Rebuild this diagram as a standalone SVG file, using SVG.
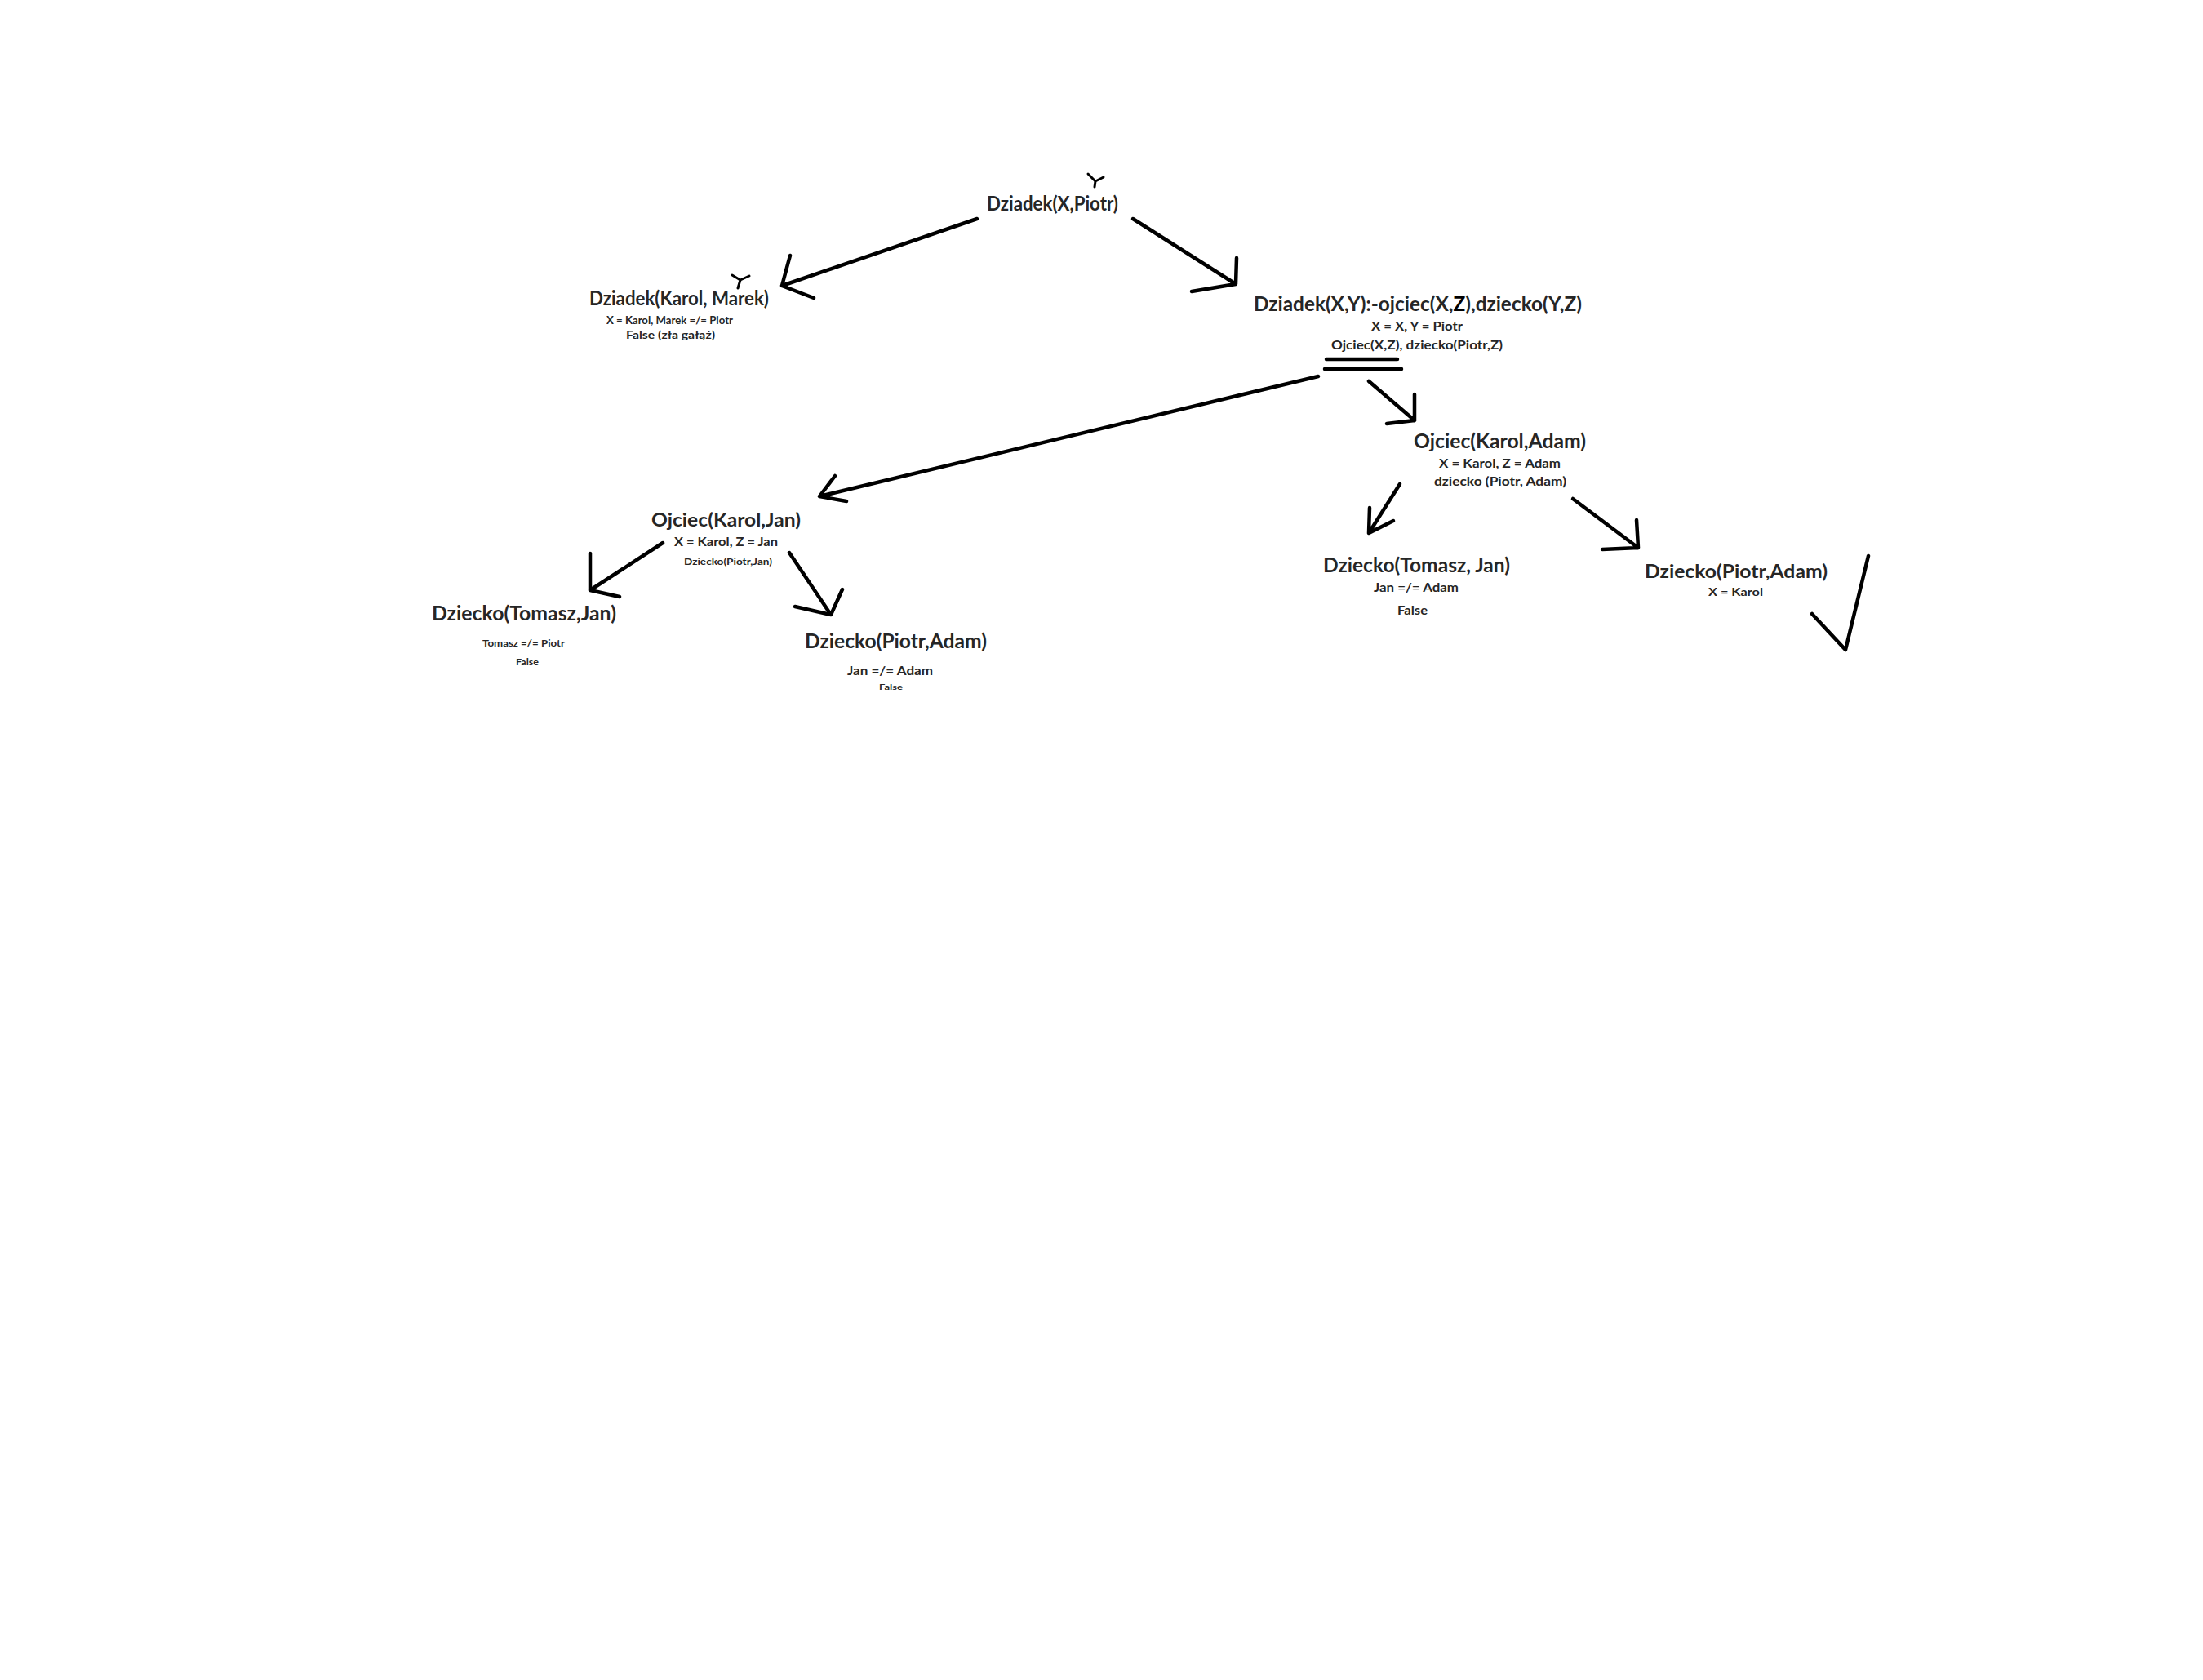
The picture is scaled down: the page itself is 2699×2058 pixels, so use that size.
<svg xmlns="http://www.w3.org/2000/svg" width="2699" height="2058" viewBox="0 0 2699 2058">
<style>
text{font-family:Lato,"Open Sans","Liberation Sans",sans-serif;font-weight:700;fill:#262626}
.t{font-size:24px}
.s{font-size:15px}
.xs{font-size:11px}
.ln{fill:none;stroke:#000;stroke-width:4.5;stroke-linecap:round;stroke-linejoin:round}
.mk{fill:none;stroke:#000;stroke-width:3;stroke-linecap:round;stroke-linejoin:round}
</style>
<rect width="2699" height="2058" fill="#fff"/>
<g id="connectors">
<path class="ln" d="M1197,268 L958,350 M968,313 L958,350 L997,365"/>
<path class="ln" d="M1388,268 L1514,348 M1515,316 L1514,348 L1460,357"/>
<path class="ln" d="M1615,461 L1004,608 M1023,583 L1004,608 L1037,614"/>
<path class="ln" d="M1677,467 L1733,515 M1733,483 L1733,515 L1699,519"/>
<path class="ln" d="M1715,593 L1677,653 M1678,622 L1677,653 L1707,638"/>
<path class="ln" d="M1927,611 L2007,671 M2005,637 L2007,671 L1963,673"/>
<path class="ln" d="M812,665 L723,723 M723,678 L723,723 L759,731"/>
<path class="ln" d="M967,677 L1018,753 M1032,722 L1018,753 L974,743"/>
</g>
<g id="root">
<path class="mk" d="M1333,213 L1342,222 L1352,217 M1342,222 L1341,229"/>
<text class="t" x="1209" y="258" textLength="161" lengthAdjust="spacingAndGlyphs">Dziadek(X,Piotr)</text>
</g>
<g id="n-karol-marek">
<text style="font-size:25px" x="722" y="374" textLength="220" lengthAdjust="spacingAndGlyphs">Dziadek(Karol, Marek)</text>
<path class="mk" d="M897,337 L907,343 L918,338 M907,343 L904,353"/>
<text style="font-size:13px" x="743" y="397" textLength="155" lengthAdjust="spacingAndGlyphs">X = Karol, Marek =/= Piotr</text>
<text style="font-size:13px" x="767" y="415" textLength="109" lengthAdjust="spacingAndGlyphs">False (zła gałąź)</text>
</g>
<g id="n-rule">
<text class="t" x="1536" y="381" textLength="402" lengthAdjust="spacingAndGlyphs">Dziadek(X,Y):-ojciec(X,<tspan fill="#000">Z</tspan>),dziecko(Y,Z)</text>
<text class="s" x="1680" y="405" textLength="112" lengthAdjust="spacingAndGlyphs">X = X, Y = Piotr</text>
<text class="s" x="1631" y="428" textLength="210" lengthAdjust="spacingAndGlyphs">Ojciec(X,Z), dziecko(Piotr,Z)</text>
<path class="ln" d="M1625,440 L1712,440 M1623,452 L1717,452"/>
</g>
<g id="n-ojciec-adam">
<text style="font-size:25px" x="1732" y="549" textLength="211" lengthAdjust="spacingAndGlyphs">Ojciec(Karol,Adam)</text>
<text style="font-size:16px" x="1763" y="573" textLength="149" lengthAdjust="spacingAndGlyphs">X = Karol, Z = Adam</text>
<text style="font-size:16px" x="1757" y="595" textLength="162" lengthAdjust="spacingAndGlyphs">dziecko (Piotr, Adam)</text>
</g>
<g id="n-ojciec-jan">
<text style="font-size:22px" x="798" y="645" textLength="183" lengthAdjust="spacingAndGlyphs">Ojciec(Karol,Jan)</text>
<text class="s" x="826" y="669" textLength="127" lengthAdjust="spacingAndGlyphs">X = Karol, Z = Jan</text>
<text class="xs" x="838" y="692" textLength="108" lengthAdjust="spacingAndGlyphs">Dziecko(Piotr,Jan)</text>
</g>
<g id="n-tomasz-jan-left">
<text class="t" x="529" y="760" textLength="226" lengthAdjust="spacingAndGlyphs">Dziecko(Tomasz,Jan)</text>
<text class="xs" x="591" y="792" textLength="101" lengthAdjust="spacingAndGlyphs">Tomasz =/= Piotr</text>
<text class="xs" x="632" y="815" textLength="28" lengthAdjust="spacingAndGlyphs">False</text>
</g>
<g id="n-piotr-adam-left">
<text class="t" x="986" y="794" textLength="223" lengthAdjust="spacingAndGlyphs">Dziecko(Piotr,Adam)</text>
<text class="s" x="1038" y="827" textLength="105" lengthAdjust="spacingAndGlyphs">Jan =/= Adam</text>
<text style="font-size:10px" x="1077" y="845" textLength="29" lengthAdjust="spacingAndGlyphs">False</text>
</g>
<g id="n-tomasz-jan-right">
<text class="t" x="1621" y="701" textLength="229" lengthAdjust="spacingAndGlyphs">Dziecko(Tomasz, Jan)</text>
<text class="s" x="1683" y="725" textLength="104" lengthAdjust="spacingAndGlyphs">Jan =/= Adam</text>
<text class="s" x="1712" y="753" textLength="37" lengthAdjust="spacingAndGlyphs">False</text>
</g>
<g id="n-piotr-adam-right">
<text style="font-size:23px" x="2015" y="708" textLength="224" lengthAdjust="spacingAndGlyphs">Dziecko(Piotr,Adam)</text>
<text style="font-size:13px" x="2093" y="730" textLength="67" lengthAdjust="spacingAndGlyphs">X = Karol</text>
<path class="ln" d="M2220,752 L2261,796 L2289,681"/>
</g>
</svg>
